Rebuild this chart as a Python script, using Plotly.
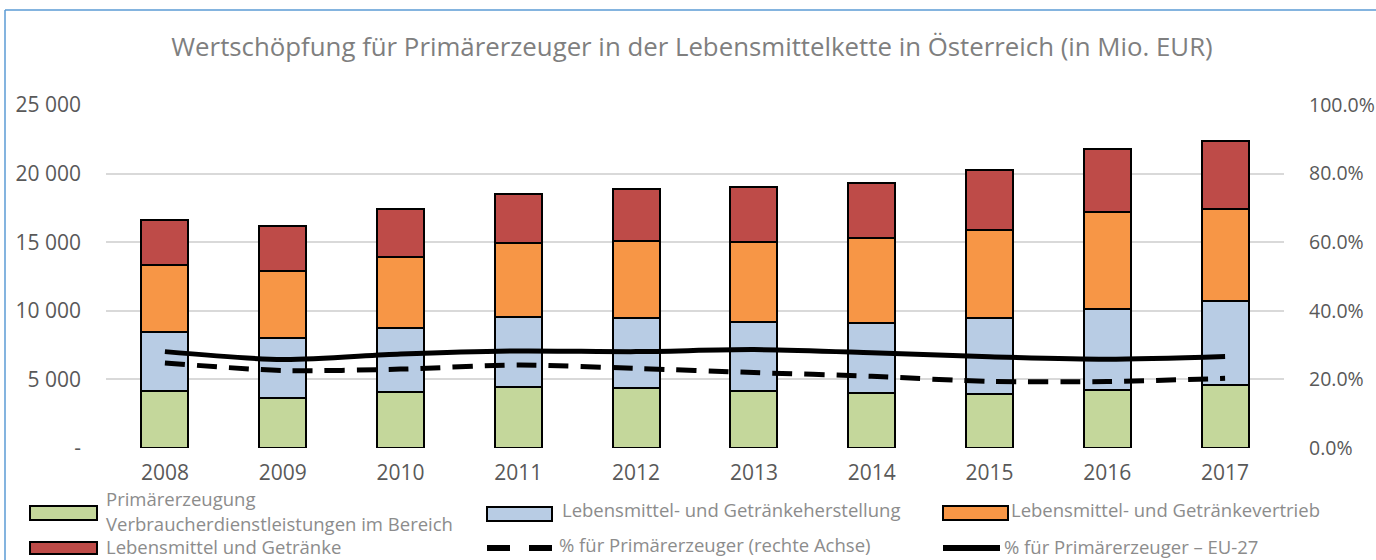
import plotly.graph_objects as go

years = ["2008", "2009", "2010", "2011", "2012", "2013", "2014", "2015", "2016", "2017"]
primaer = [4130, 3620, 4060, 4420, 4370, 4160, 4030, 3960, 4230, 4590]
herstellung = [4350, 4400, 4690, 5150, 5110, 5050, 5080, 5520, 5900, 6100]
vertrieb = [4870, 4880, 5150, 5340, 5590, 5790, 6170, 6430, 7090, 6700]
verbraucher = [3250, 3300, 3500, 3600, 3820, 4000, 4010, 4350, 4590, 5010]
pct_at = [0.248, 0.226, 0.230, 0.242, 0.232, 0.220, 0.209, 0.194, 0.194, 0.203]
pct_eu = [0.281, 0.258, 0.274, 0.283, 0.281, 0.287, 0.278, 0.266, 0.259, 0.267]

names = [
    "Primärerzeugung",
    "Lebensmittel- und Getränkeherstellung",
    "Lebensmittel- und Getränkevertrieb",
    "Verbraucherdienstleistungen im Bereich Lebensmittel und Getränke",
    "% für Primärerzeuger (rechte Achse)",
    "% für Primärerzeuger – EU-27",
]
left_tickvals = [0, 5000, 10000, 15000, 20000, 25000]
left_ticktext = ["-", "5 000", "10 000", "15 000", "20 000", "25 000"]
right_tickvals = [0, 0.2, 0.4, 0.6, 0.8, 1.0]

colors = ["#C4D79B", "#B8CCE4", "#F79646", "#BE4B48"]

W, H = 1376, 560
L, R, T, B = 106, 1284, 105, 448
FONT = "Open Sans"


def px(p):
    return (p - L) / (R - L)


def py(p):
    return (B - p) / (B - T)


fig = go.Figure()
for vals, nm, col in zip([primaer, herstellung, vertrieb, verbraucher], names[:4], colors):
    fig.add_trace(go.Bar(x=years, y=vals, name=nm, marker=dict(color=col, line=dict(color="black", width=2)),
                         showlegend=False))

fig.add_trace(go.Scatter(x=years, y=pct_at, name=names[4], yaxis="y2", mode="lines",
                         line=dict(color="black", width=5, dash="20px,12px", shape="spline", smoothing=0.8),
                         showlegend=False))
fig.add_trace(go.Scatter(x=years, y=pct_eu, name=names[5], yaxis="y2", mode="lines",
                         line=dict(color="black", width=5, shape="spline", smoothing=0.8),
                         showlegend=False))

shapes = []
annotations = []
# outer border (top and left)
shapes.append(dict(type="line", xref="paper", yref="paper", x0=px(5), x1=px(1376), y0=py(10), y1=py(10),
                   line=dict(color="#5B9BD5", width=1.5)))
shapes.append(dict(type="line", xref="paper", yref="paper", x0=px(5), x1=px(5), y0=py(10), y1=py(562),
                   line=dict(color="#5B9BD5", width=1.5)))

# custom legend
leg_font = dict(family=FONT, size=18.5, color="#8C8C8C")
box_specs = [(30, 97, 506, 520), (487, 552, 507, 521), (943, 1008, 506, 520), (30, 97, 542, 554)]
for (x0, x1, y0, y1), col in zip(box_specs, colors):
    shapes.append(dict(type="rect", xref="paper", yref="paper", x0=px(x0), x1=px(x1), y0=py(y1), y1=py(y0),
                       fillcolor=col, line=dict(color="black", width=2)))
shapes.append(dict(type="line", xref="paper", yref="paper", x0=px(487), x1=px(552), y0=py(548), y1=py(548),
                   line=dict(color="black", width=6, dash="23px,19px")))
shapes.append(dict(type="line", xref="paper", yref="paper", x0=px(943), x1=px(1000), y0=py(548), y1=py(548),
                   line=dict(color="black", width=6)))

verb_parts = names[3].split(" Lebensmittel")
text_specs = [
    (names[0], 105, 499),
    (verb_parts[0], 105, 523),
    ("Lebensmittel" + verb_parts[1], 105, 546),
    (names[1], 561, 509),
    (names[2], 1010, 509),
    (names[4], 558, 544),
    (names[5], 1003, 546),
]
for txt, x, y in text_specs:
    annotations.append(dict(text=txt, xref="paper", yref="paper", x=px(x), y=py(y), xanchor="left",
                            yanchor="middle", showarrow=False, font=leg_font, borderpad=0))

fig.update_layout(
    width=W, height=H,
    margin=dict(l=L, r=W - R, t=T, b=H - B),
    paper_bgcolor="white", plot_bgcolor="white",
    barmode="stack", bargap=0.6,
    font=dict(family=FONT, color="#595959"),
    title=dict(text="Wertschöpfung für Primärerzeuger in der Lebensmittelkette in Österreich (in Mio. EUR)",
               x=692 / W, xanchor="center", y=1 - 47 / H, yanchor="middle",
               font=dict(family=FONT, size=25.8, color="#7F7F7F")),
    xaxis=dict(type="category", showgrid=False, showline=False, ticks="", tickfont=dict(size=21, color="#595959"),
               ticklabelstandoff=10, automargin=False),
    yaxis=dict(range=[0, 25000], tickvals=left_tickvals, ticktext=left_ticktext, showgrid=True,
               gridcolor="#D9D9D9", gridwidth=2, zeroline=False, showline=False, ticks="",
               tickfont=dict(size=21, color="#595959"), ticklabelstandoff=24, automargin=False),
    yaxis2=dict(range=[0, 1], overlaying="y", side="right", tickvals=right_tickvals, tickformat=".1%",
                showgrid=False, zeroline=False, showline=False, ticks="",
                tickfont=dict(size=19.5, color="#595959"), ticklabelstandoff=24, automargin=False),
    showlegend=False,
    shapes=shapes,
    annotations=annotations,
)

fig.write_html("out.html", config={"displayModeBar": False},
               post_script="document.body.style.margin='0';document.body.style.overflow='hidden';")
